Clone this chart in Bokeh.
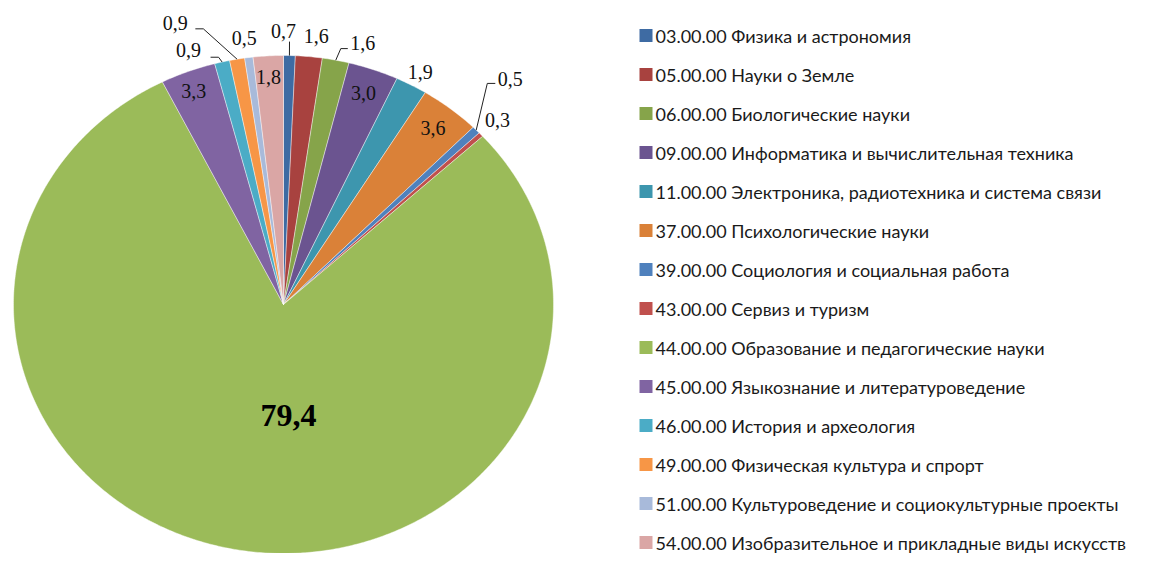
import numpy as np
from bokeh.plotting import figure
from bokeh.models import Range1d
from bokeh.core.properties import value
from bokeh.embed import file_html
from bokeh.resources import INLINE

# ---------------- data ----------------
categories = [
    "03.00.00 Физика и астрономия",
    "05.00.00 Науки о Земле",
    "06.00.00 Биологические науки",
    "09.00.00 Информатика и вычислительная техника",
    "11.00.00 Электроника, радиотехника и система связи",
    "37.00.00 Психологические науки",
    "39.00.00 Социология и социальная работа",
    "43.00.00 Сервиз и туризм",
    "44.00.00 Образование и педагогические науки",
    "45.00.00 Языкознание и литературоведение",
    "46.00.00 История и археология",
    "49.00.00 Физическая культура и спрорт",
    "51.00.00 Культуроведение и социокультурные проекты",
    "54.00.00 Изобразительное и прикладные виды искусств",
]
values = [0.7, 1.6, 1.6, 3.0, 1.9, 3.6, 0.5, 0.3, 79.4, 3.3, 0.9, 0.9, 0.5, 1.8]
labels = ["0,7", "1,6", "1,6", "3,0", "1,9", "3,6", "0,5", "0,3", "79,4", "3,3", "0,9", "0,9", "0,5", "1,8"]

colors = ["#3E6BA3", "#A8423F", "#86A44A", "#6B5490", "#3D96AE", "#DA8138",
          "#4F81BD", "#C0504D", "#9BBB59", "#8064A2", "#4BACC6", "#F79646",
          "#A8BADA", "#DAA6A5"]

# ---------------- layout ----------------
W, H = 1136, 553
cx, cy, rx, ry = 283.0, 304.0, 270.0, 249.0   # elliptical pie (pixel-like data space)

# label placement: (angle in degrees clockwise from 12 o'clock, radial factor)
label_pos = [(0.0, 1.10), (6.4, 1.087), (15.6, 1.092), (19.2, 0.90), (28.5, 1.061),
             (38.0, 0.90), (42.9, 1.234), (47.0, 1.084), (177.6, 0.446), (338.8, 0.92),
             (341.0, 1.08), (340.5, 1.20), (352.3, 1.082), (356.5, 0.917)]
# leaders: slice index -> (end dx, end dy relative to label, horizontal length)
leaders = {0: (6, 11, 0), 2: (-15, 6, -7), 6: (-15, 4, -8), 10: (22, 7, 8), 11: (20, 6, 8)}


def pt(ang_deg, r=1.0):
    a = np.radians(ang_deg)
    return cx + r * rx * np.sin(a), cy - r * ry * np.cos(a)


p = figure(width=W, height=H, x_range=Range1d(0, W), y_range=Range1d(H, 0),
           output_backend="svg", toolbar_location=None, min_border=0)
p.axis.visible = False
p.grid.visible = False
p.outline_line_color = None
p.background_fill_color = "white"
p.border_fill_color = "white"

total = float(sum(values))
starts = np.concatenate([[0.0], np.cumsum(values)[:-1]]) / total * 360.0
ends = np.cumsum(values) / total * 360.0

xs, ys = [], []
for s, e in zip(starts, ends):
    n = max(4, int((e - s) * 2))
    ang = np.linspace(s, e, n)
    ax, ay = pt(ang)
    xs.append(np.concatenate([[cx], ax]).tolist())
    ys.append(np.concatenate([[cy], ay]).tolist())

p.patches(xs=xs, ys=ys, fill_color=colors, line_color="white", line_width=0.6, line_alpha=0.7)

# data labels
lx, ly = [], []
for ang, r in label_pos:
    x, y = pt(ang, r)
    lx.append(float(x)); ly.append(float(y))

small_idx = [i for i in range(len(values)) if i != 8]
p.text(x=[lx[i] for i in small_idx], y=[ly[i] for i in small_idx],
       text=[labels[i] for i in small_idx], text_font=value("Liberation Serif"),
       text_font_size="20px", text_align="center", text_baseline="middle", text_color="#111111")
p.text(x=[lx[8]], y=[ly[8]], text=[labels[8]], text_font=value("Liberation Serif"),
       text_font_size="32px", text_font_style="bold", text_align="center",
       text_baseline="middle", text_color="#000000")

# leader lines
mx, my = [], []
for i, (dx, dy, hl) in leaders.items():
    mid = (starts[i] + ends[i]) / 2
    ex, ey = pt(mid, 1.0)
    endx, endy = lx[i] + dx, ly[i] + dy
    elx, ely = endx + hl, endy
    mx.append([float(ex), elx, endx]); my.append([float(ey), ely, endy])
p.multi_line(xs=mx, ys=my, line_color="#222222", line_width=1)

# legend
row0, pitch = 35.0, 39.0
leg_y = [row0 + pitch * i for i in range(len(categories))]
p.rect(x=[645.5] * len(categories), y=leg_y, width=13, height=13, fill_color=colors, line_color=None)
p.text(x=[655] * len(categories), y=leg_y, text=categories, text_font=value("Lato"),
       text_font_size="18px", text_align="left", text_baseline="middle", text_color="#1a1a1a")

open("out.html", "w").write(file_html(p, INLINE))
